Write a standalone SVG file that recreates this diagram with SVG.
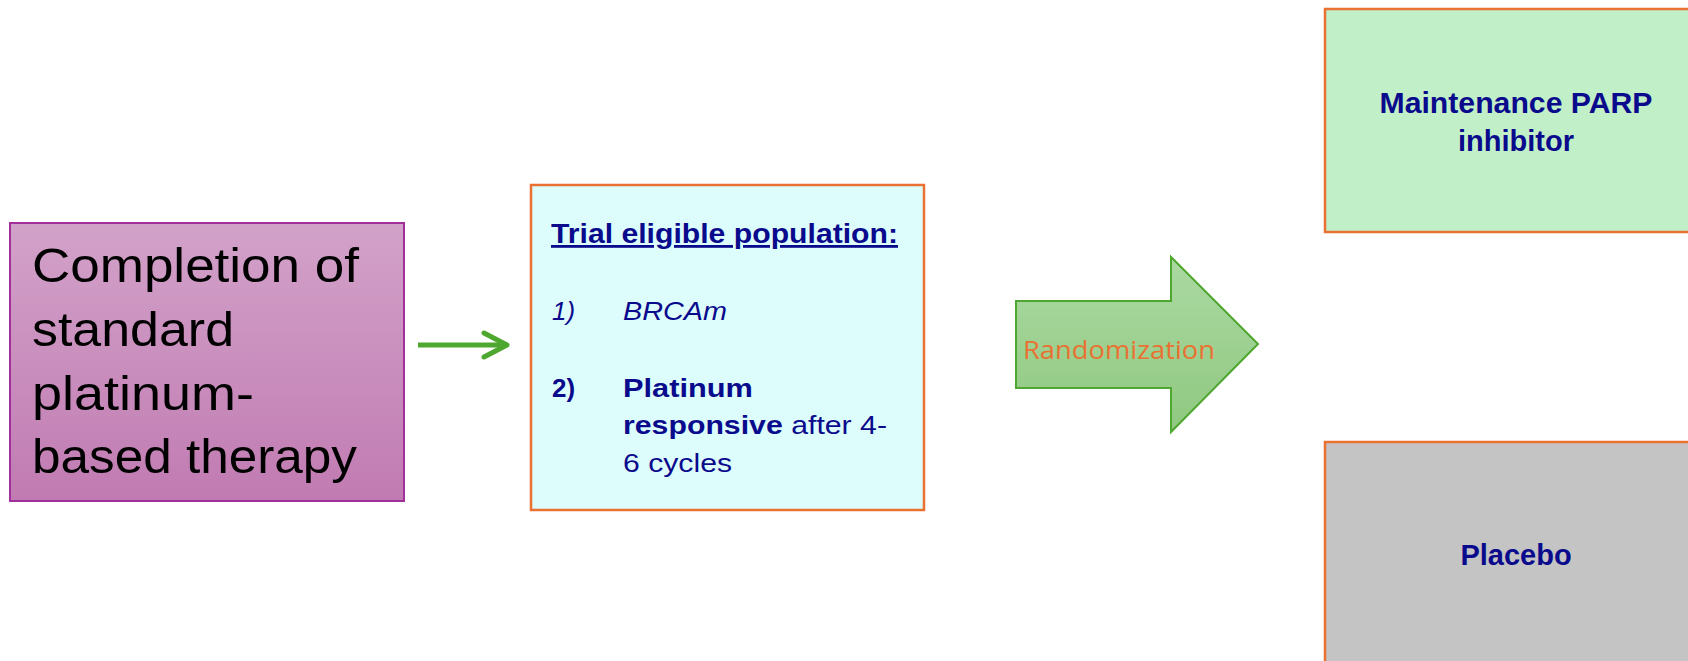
<svg xmlns="http://www.w3.org/2000/svg" width="1688" height="661" viewBox="0 0 1688 661">
<style>
  .dk { fill: #0A0A8C; font-family: "Liberation Sans", Arial, sans-serif; }
  .arm { font-family: "Liberation Sans", Arial, sans-serif; font-weight: bold; font-size: 29px; fill: #0A0A8C; text-anchor: middle; }
  .box { stroke: #E97132; stroke-width: 2.5; }
</style>
<defs>
  <linearGradient id="gPurple" x1="0" y1="0" x2="0" y2="1">
    <stop offset="0" stop-color="#D2A2C9"/>
    <stop offset="1" stop-color="#C17BB2"/>
  </linearGradient>
  <linearGradient id="gGreen" x1="0" y1="0" x2="0" y2="1">
    <stop offset="0" stop-color="#ABD9A2"/>
    <stop offset="1" stop-color="#8FC880"/>
  </linearGradient>
</defs>

<g id="completion">
  <rect x="10" y="223" width="394" height="278" fill="url(#gPurple)" stroke="#A2309C" stroke-width="2"/>
  <g font-family="'Liberation Sans', Arial, sans-serif" font-size="48" fill="#000">
    <text x="32" y="282" textLength="327" lengthAdjust="spacingAndGlyphs">Completion of</text>
    <text x="32" y="346" textLength="202" lengthAdjust="spacingAndGlyphs">standard</text>
    <text x="32" y="410" textLength="222" lengthAdjust="spacingAndGlyphs">platinum-</text>
    <text x="32" y="473" textLength="325" lengthAdjust="spacingAndGlyphs">based therapy</text>
  </g>
</g>

<g id="connectors">
  <line x1="418" y1="345" x2="505" y2="345" stroke="#4EA72E" stroke-width="5"/>
  <polyline points="484,333 507,345 484,357" fill="none" stroke="#4EA72E" stroke-width="5" stroke-linecap="round" stroke-linejoin="round"/>
</g>

<g id="eligible">
  <rect x="531" y="185" width="393" height="325" fill="#DDFDFD" class="box"/>
  <text class="dk" x="551" y="243" font-size="28" font-weight="bold" text-decoration="underline" textLength="347" lengthAdjust="spacingAndGlyphs">Trial eligible population:</text>
  <text class="dk" x="552" y="320" font-size="26" font-style="italic">1)</text>
  <text class="dk" x="623" y="320" font-size="26" font-style="italic" textLength="104" lengthAdjust="spacingAndGlyphs">BRCAm</text>
  <text class="dk" x="552" y="397" font-size="26" font-weight="bold">2)</text>
  <text class="dk" x="623" y="397" font-size="26" font-weight="bold" textLength="130" lengthAdjust="spacingAndGlyphs">Platinum</text>
  <text class="dk" x="623" y="434" font-size="26" textLength="264" lengthAdjust="spacingAndGlyphs"><tspan font-weight="bold">responsive</tspan> after 4-</text>
  <text class="dk" x="623" y="472" font-size="26" textLength="109" lengthAdjust="spacingAndGlyphs">6 cycles</text>
</g>

<g id="randomization">
  <polygon points="1016,301 1171,301 1171,257 1258,344 1171,432 1171,388 1016,388" fill="url(#gGreen)" stroke="#4EA72E" stroke-width="2"/>
  <text x="1023" y="359" font-family="'Open Sans', 'Liberation Sans', sans-serif" font-size="25" fill="#E97132" textLength="192" lengthAdjust="spacingAndGlyphs">Randomization</text>
</g>

<g id="parp">
  <rect x="1325" y="9" width="400" height="223" fill="#C1F0C8" class="box"/>
  <text class="arm" x="1516" y="113" textLength="273" lengthAdjust="spacingAndGlyphs">Maintenance PARP</text>
  <text class="arm" x="1516" y="151">inhibitor</text>
</g>

<g id="placebo">
  <rect x="1325" y="442" width="400" height="260" fill="#C4C4C4" class="box"/>
  <text class="arm" x="1516" y="565">Placebo</text>
</g>
</svg>
